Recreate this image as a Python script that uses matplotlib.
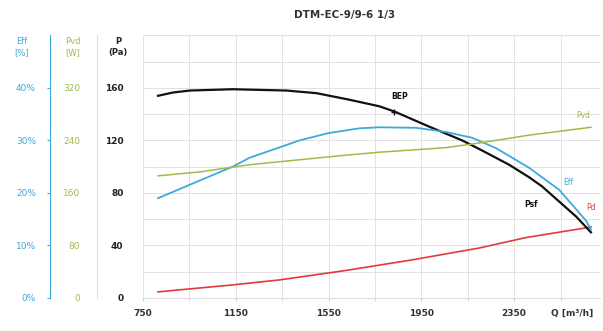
import matplotlib
matplotlib.use('Agg')
from matplotlib import pyplot as plt
from matplotlib.ticker import FuncFormatter

# fan curve DTM-EC-9/9-6 1/3
q_psf = [815, 880, 952, 1137, 1369, 1498, 1640, 1769, 1834, 1984, 2126, 2199, 2328, 2414, 2470,
         2617, 2681]
psf = [154, 156.5, 158, 159, 158, 156, 151, 146, 142, 130.5, 120, 113.5, 101.5, 92, 85, 62, 50]

q_eff = [815, 1137, 1210, 1425, 1550, 1683, 1769, 1928, 2057, 2169, 2273, 2414, 2544, 2660, 2681]
eff = [19.0, 25.0, 26.7, 30.0, 31.4, 32.3, 32.5, 32.4, 31.6, 30.5, 28.5, 24.8, 20.6, 14.7, 13.0]

q_pvd = [815, 995, 1210, 1640, 1769, 2057, 2199, 2414, 2681]
pvd = [186, 192, 203, 218, 222, 229, 236, 248, 260]

q_pd = [815, 1137, 1339, 1628, 1911, 2199, 2402, 2681]
pd = [4.6, 9.9, 13.7, 21, 29, 38, 46, 54]

bep_q = 1834
bep_p = 142

x_ticks = [750, 1150, 1550, 1950, 2350]
p_ticks = [0, 40, 80, 120, 160]
eff_ticks = [0, 10, 20, 30, 40]
pvd_ticks = [0, 80, 160, 240, 320]

c_p = '#111111'
c_eff = '#3fa9dc'
c_pvd = '#9cbc4a'
c_pd = '#e23a3a'

fig = plt.figure(figsize=(6.03, 3.31), dpi=100)
ax = fig.add_axes([0.237, 0.10, 0.758, 0.793])

ax.set_xlim(750, 2720)
ax.set_ylim(0, 200)
ax.set_xticks(range(750, 2720, 200), minor=True)
ax.set_xticks(x_ticks)
ax.set_yticks(range(0, 201, 20), minor=True)
ax.set_yticks(p_ticks)
ax.grid(True, which='both', color='#e2e2e2', lw=0.7)
ax.set_axisbelow(True)
for s in ['top', 'right', 'left']:
    ax.spines[s].set_visible(False)
ax.spines['bottom'].set_color('#dddddd')
ax.tick_params(axis='x', which='both', length=2, color='#cccccc', labelsize=6.5, pad=6)
ax.tick_params(axis='y', which='both', length=0, labelsize=6.5, pad=14)
for t in ax.get_yticklabels():
    t.set_fontweight('bold')
    t.set_color('#222222')
for t in ax.get_xticklabels():
    t.set_fontweight('bold')
    t.set_color('#333333')

# secondary scales on the left: efficiency and power
ax_eff = ax.twinx()
ax_eff.set_ylim(0, 50)
ax_eff.set_yticks(eff_ticks)
ax_eff.yaxis.set_major_formatter(FuncFormatter(lambda v, p: '%d%%' % v))
ax_eff.yaxis.tick_left()
ax_eff.spines['left'].set_position(('axes', -0.2035))
ax_eff.spines['left'].set_color(c_eff)
for s in ['top', 'right', 'bottom']:
    ax_eff.spines[s].set_visible(False)
ax_eff.tick_params(axis='y', colors=c_eff, labelsize=6.5, length=2, pad=8)

ax_pvd = ax.twinx()
ax_pvd.set_ylim(0, 400)
ax_pvd.set_yticks(pvd_ticks)
ax_pvd.yaxis.tick_left()
ax_pvd.spines['left'].set_position(('axes', -0.1007))
ax_pvd.spines['left'].set_color('#dddddd')
for s in ['top', 'right', 'bottom']:
    ax_pvd.spines[s].set_visible(False)
ax_pvd.tick_params(axis='y', colors=c_pvd, labelsize=6.5, length=0, pad=12)

# curves
ax_pvd.plot(q_pvd, pvd, color=c_pvd, lw=1.1)
ax.plot(q_pd, pd, color=c_pd, lw=1.2)
ax_eff.plot(q_eff, eff, color=c_eff, lw=1.3)
ax.plot(q_psf, psf, color=c_p, lw=1.6)
ax.plot([bep_q], [bep_p], marker='+', color=c_p, ms=4, mew=1)
ax.text(bep_q - 15, bep_p + 8, 'BEP', fontsize=5.5, fontweight='bold', ha='left', va='bottom',
        color=c_p)

ax.text(2423, 71, 'Psf', fontsize=5.5, fontweight='bold', color=c_p, ha='center', va='center')
ax.text(2585, 88, 'Eff', fontsize=5.5, color=c_eff, ha='center', va='center')
ax.text(2683, 69, 'Pd', fontsize=5.5, color=c_pd, ha='center', va='center')
ax_pvd.text(2648, 278, 'Pvd', fontsize=5.5, color=c_pvd, ha='center', va='center')

fig.text(0.572, 0.955, 'DTM-EC-9/9-6 1/3', fontsize=7.5, fontweight='bold', color='#333333',
         ha='center', va='center')
fig.text(0.036, 0.858, 'Eff\n[%]', fontsize=6, color=c_eff, ha='center', va='center', linespacing=1.3)
fig.text(0.121, 0.858, 'Pvd\n[W]', fontsize=6, color=c_pvd, ha='center', va='center', linespacing=1.3)
fig.text(0.196, 0.858, 'P\n(Pa)', fontsize=6, fontweight='bold', color='#222222', ha='center',
         va='center', linespacing=1.3)
fig.text(0.948, 0.054, 'Q [m³/h]', fontsize=6.5, fontweight='bold', color='#333333', ha='center',
         va='center')

fig.savefig('out.png', dpi=100)
